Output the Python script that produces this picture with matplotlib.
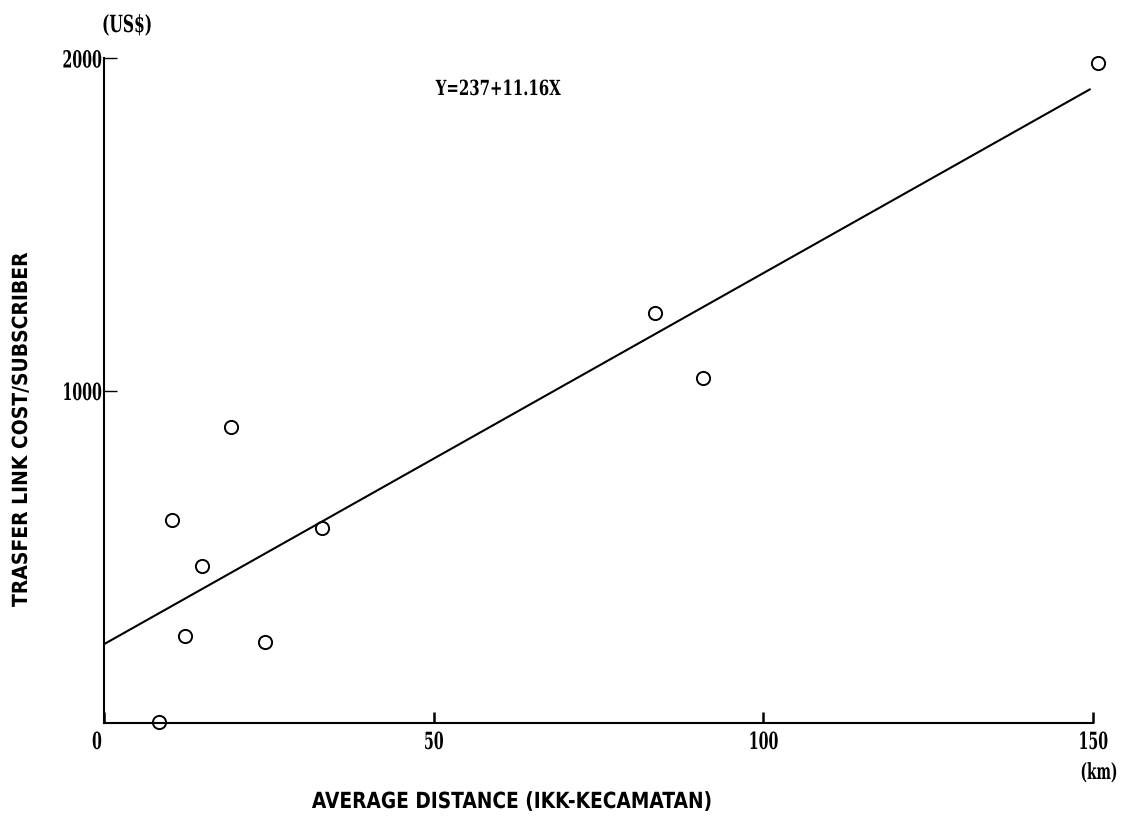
import matplotlib
matplotlib.use("Agg")
import matplotlib.pyplot as plt
import numpy as np
from matplotlib.patheffects import AbstractPathEffect
from matplotlib.transforms import Affine2D

# Average IKK-Kecamatan distance (km) and transfer link cost per subscriber (US$)
distance_km = [8.3, 10.3, 12.3, 14.8, 19.2, 24.4, 33.0, 83.5, 90.8, 150.8]
cost_usd = [3, 611, 262, 472, 890, 244, 586, 1233, 1038, 1985]

# Regression line Y = 237 + 11.16 X
intercept = 237
slope = 11.16
fit_range = [0, 149.5]

x_ticks = [0, 50, 100, 150]
y_ticks = [1000, 2000]


class Condense(AbstractPathEffect):
    """Squeeze glyphs along the reading direction to mimic a narrow typeface."""

    def __init__(self, factor, anchor="center", vertical=False):
        super().__init__()
        self.factor = factor
        self.anchor = anchor
        self.vertical = vertical

    def draw_path(self, renderer, gc, tpath, affine, rgbFace=None):
        ext = tpath.get_extents(affine)
        if self.vertical:
            lo, hi = ext.y0, ext.y1
        else:
            lo, hi = ext.x0, ext.x1
        c = {"center": (lo + hi) / 2, "left": lo, "right": hi}[self.anchor]
        if self.vertical:
            extra = Affine2D().translate(0, -c).scale(1, self.factor).translate(0, c)
        else:
            extra = Affine2D().translate(-c, 0).scale(self.factor, 1).translate(c, 0)
        renderer.draw_path(gc, tpath, affine + extra, rgbFace)


W, H = 1128, 818
fig = plt.figure(figsize=(W / 100, H / 100), dpi=100)
ax = fig.add_axes([104 / W, (H - 723) / H, (1093 - 104) / W, (723 - 58) / H])

num_font = "DejaVu Serif"
lab_font = "DejaVu Sans"

ax.plot(distance_km, cost_usd, linestyle="none", marker="o", markersize=9.5,
        markerfacecolor="none", markeredgecolor="black", markeredgewidth=1.4,
        clip_on=False, zorder=3)

xf = np.array(fit_range)
ax.plot(xf, intercept + slope * xf, color="black", linewidth=1.5)

ax.set_xlim(0, 150)
ax.set_ylim(0, 2000)
for side in ("top", "right"):
    ax.spines[side].set_visible(False)
for side in ("left", "bottom"):
    ax.spines[side].set_linewidth(1.5)

ax.set_xticks(x_ticks)
ax.set_xticklabels([str(v) for v in x_ticks], family=num_font, fontsize=17,
                   fontweight="bold")
ax.set_yticks(y_ticks)
ax.set_yticklabels([str(v) for v in y_ticks], family=num_font, fontsize=17,
                   fontweight="bold")
ax.tick_params(axis="x", direction="in", length=8, width=1.8, pad=5)
ax.tick_params(axis="y", direction="in", length=9, width=1.0, pad=1)

for lbl in ax.get_xticklabels():
    lbl.set_path_effects([Condense(0.6, "center")])
for lbl in ax.get_yticklabels():
    lbl.set_path_effects([Condense(0.6, "right")])
# the zero label sits a little left of the origin
zero_lbl = ax.get_xticklabels()[0]
zero_lbl.set_transform(zero_lbl.get_transform() + Affine2D().translate(-7, 0))

us = fig.text(127 / W, 1 - 25 / H, "(US$)", family=num_font, fontsize=17,
              fontweight="bold", ha="center", va="center")
km = fig.text(1099 / W, 1 - 773 / H, "(km)", family=num_font, fontsize=16,
              fontweight="bold", ha="center", va="center")
eq = fig.text(499 / W, 1 - 89 / H, "Y=237+11.16X", family=num_font, fontsize=15,
              fontweight="bold", ha="center", va="center")
xl = fig.text(512 / W, 1 - 802 / H, "AVERAGE DISTANCE (IKK-KECAMATAN)",
              family=lab_font, fontsize=16, fontweight="bold",
              ha="center", va="center")
yl = fig.text(21 / W, 1 - 430 / H, "TRASFER LINK COST/SUBSCRIBER",
              family=lab_font, fontsize=15, fontweight="bold", rotation=90,
              ha="center", va="center")

# narrow each label to its printed length
renderer = fig.canvas.get_renderer()
targets = [(us, 50, False), (km, 37, False), (eq, 126, False),
           (xl, 400, False), (yl, 354, True)]
for txt, span, vertical in targets:
    bb = txt.get_window_extent(renderer)
    natural = bb.height if vertical else bb.width
    txt.set_path_effects([Condense(span / natural, "center", vertical)])

fig.savefig("out.png", dpi=100)
